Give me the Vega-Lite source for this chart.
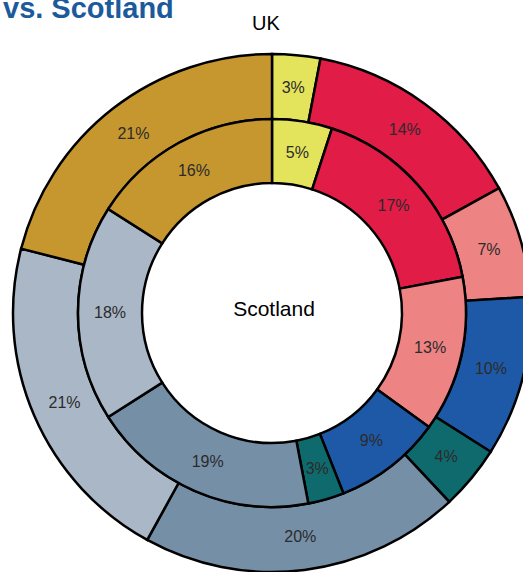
{
  "$schema": "https://vega.github.io/schema/vega-lite/v6.json",
  "autosize": "none",
  "width": 544,
  "height": 546,
  "padding": {"left": 0, "top": 40, "right": 0, "bottom": 0},
  "background": "white",
  "title": {
    "text": "vs. Scotland",
    "anchor": "start",
    "frame": "group",
    "orient": "top",
    "offset": -10,
    "dx": 3,
    "font": "Liberation Sans",
    "fontSize": 29,
    "fontWeight": "bold",
    "color": "#1b5a9b"
  },
  "config": {"view": {"stroke": null}},
  "data": {
    "values": [
      {"ring": "UK", "category": "A", "order": 1, "value": 3, "label": "3%"},
      {"ring": "UK", "category": "B", "order": 2, "value": 14, "label": "14%"},
      {"ring": "UK", "category": "C", "order": 3, "value": 7, "label": "7%"},
      {"ring": "UK", "category": "D", "order": 4, "value": 10, "label": "10%"},
      {"ring": "UK", "category": "E", "order": 5, "value": 4, "label": "4%"},
      {"ring": "UK", "category": "F", "order": 6, "value": 20, "label": "20%"},
      {"ring": "UK", "category": "G", "order": 7, "value": 21, "label": "21%"},
      {"ring": "UK", "category": "H", "order": 8, "value": 21, "label": "21%"},
      {"ring": "Scotland", "category": "A", "order": 1, "value": 5, "label": "5%"},
      {"ring": "Scotland", "category": "B", "order": 2, "value": 17, "label": "17%"},
      {"ring": "Scotland", "category": "C", "order": 3, "value": 13, "label": "13%"},
      {"ring": "Scotland", "category": "D", "order": 4, "value": 9, "label": "9%"},
      {"ring": "Scotland", "category": "E", "order": 5, "value": 3, "label": "3%"},
      {"ring": "Scotland", "category": "F", "order": 6, "value": 19, "label": "19%"},
      {"ring": "Scotland", "category": "G", "order": 7, "value": 18, "label": "18%"},
      {"ring": "Scotland", "category": "H", "order": 8, "value": 16, "label": "16%"}
    ]
  },
  "encoding": {
    "theta": {"field": "value", "type": "quantitative", "stack": true, "scale": {"domain": [0, 100]}},
    "order": {"field": "order", "type": "quantitative"},
    "color": {
      "field": "category",
      "type": "nominal",
      "legend": null,
      "scale": {
        "domain": ["A", "B", "C", "D", "E", "F", "G", "H"],
        "range": ["#e4e45c", "#e11c47", "#ee8383", "#1e59a7", "#0f6a6d", "#758fa7", "#a9b7c7", "#c6972f"]
      }
    }
  },
  "layer": [
    {
      "transform": [{"filter": "datum.ring === 'UK'"}],
      "mark": {"type": "arc", "outerRadius": 259, "innerRadius": 194, "stroke": "black", "strokeWidth": 2.5}
    },
    {
      "transform": [{"filter": "datum.ring === 'Scotland'"}],
      "mark": {"type": "arc", "outerRadius": 194, "innerRadius": 130, "stroke": "black", "strokeWidth": 2.5}
    },
    {
      "transform": [{"filter": "datum.ring === 'UK'"}],
      "mark": {"type": "text", "radius": 226, "font": "Liberation Sans", "fontSize": 16},
      "encoding": {"text": {"field": "label"}, "color": {"value": "#2b2b2b"}}
    },
    {
      "transform": [{"filter": "datum.ring === 'Scotland'"}],
      "mark": {"type": "text", "radius": 162, "font": "Liberation Sans", "fontSize": 16},
      "encoding": {"text": {"field": "label"}, "color": {"value": "#2b2b2b"}}
    },
    {
      "data": {"values": [{"name": "UK"}]},
      "mark": {"type": "text", "font": "Liberation Sans", "fontSize": 20, "baseline": "alphabetic", "dx": -6, "dy": -283},
      "encoding": {"text": {"field": "name"}, "color": {"value": "black"}, "theta": null, "order": null}
    },
    {
      "data": {"values": [{"name": "Scotland"}]},
      "mark": {"type": "text", "font": "Liberation Sans", "fontSize": 21, "baseline": "alphabetic", "dx": 2, "dy": 3},
      "encoding": {"text": {"field": "name"}, "color": {"value": "black"}, "theta": null, "order": null}
    }
  ]
}
